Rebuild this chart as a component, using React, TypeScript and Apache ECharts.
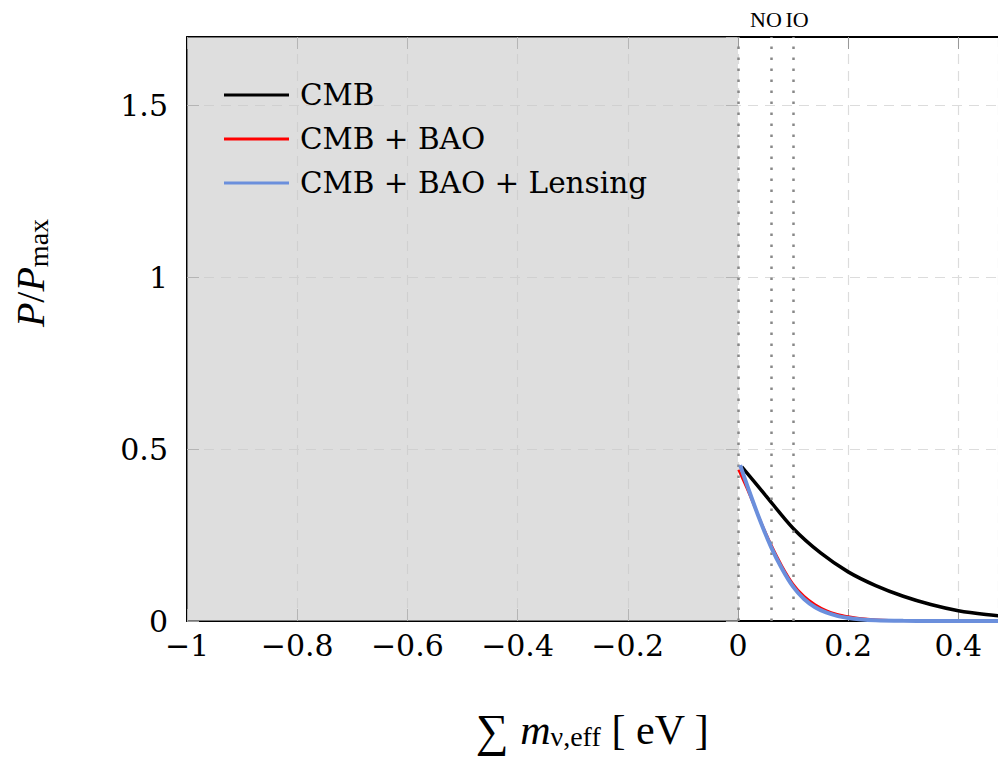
import React, { useEffect, useRef } from "react";
import * as echarts from "echarts";

const xCMB = [0.007, 0.05, 0.1, 0.15, 0.2, 0.25, 0.3, 0.35, 0.4, 0.45, 0.5];
const yCMB = [0.449, 0.366, 0.27, 0.198, 0.143, 0.103, 0.072, 0.048, 0.03, 0.019, 0.012];

const xBAO = [0.001, 0.02, 0.04, 0.06, 0.08, 0.1, 0.12, 0.14, 0.16, 0.18, 0.2, 0.22, 0.25, 0.3, 0.35, 0.4, 0.5];
const yBAO = [0.44, 0.372, 0.295, 0.223, 0.16, 0.108, 0.072, 0.048, 0.031, 0.02, 0.013, 0.008, 0.004, 0.001, 0.0003, 0, 0];

const xLens = [0.004, 0.02, 0.04, 0.06, 0.08, 0.1, 0.12, 0.14, 0.16, 0.18, 0.2, 0.22, 0.25, 0.3, 0.35, 0.4, 0.5];
const yLens = [0.454, 0.38, 0.293, 0.216, 0.152, 0.1, 0.064, 0.04, 0.025, 0.015, 0.009, 0.005, 0.002, 0.0005, 0.0001, 0, 0];

const seriesNames = ["CMB", "CMB + BAO", "CMB + BAO + Lensing"];
const seriesColors = ["#000000", "#ff0000", "#6b8fdc"];
const orderingLines = [0, 0.06, 0.1];
const orderingLabels = ["", "NO", "IO"];
const excludedRange = [-1, 0];

const SERIF = "'Liberation Serif', 'DejaVu Serif', serif";
const TICKFONT = "'DejaVu Serif', 'Liberation Serif', serif";

const zip = (xs: number[], ys: number[]) => xs.map((x, i) => [x, ys[i]]);

export default function App() {
  const ref = useRef<HTMLDivElement>(null);
  useEffect(() => {
    if (!ref.current) return;
    const chart = echarts.init(ref.current, undefined, { renderer: "svg" });
    const fmt = (v: number) => {
      const s = String(+v.toFixed(1));
      return s.replace("-", "\u2212");
    };
    const tickStyle = { show: true, inside: true, length: 12, lineStyle: { color: "#999", width: 1 } };
    const splitStyle = { show: true, lineStyle: { color: "#dcdcdc", type: [10, 7] as any, width: 1.2 } };
    const option: any = {
      animation: false,
      backgroundColor: "#fff",
      grid: { left: 187, right: 0, top: 37, bottom: 137, containLabel: false, outerBoundsMode: "none" },
      legend: {
        orient: "vertical",
        left: 224,
        top: 80,
        padding: 0,
        icon: "rect",
        itemWidth: 65,
        itemHeight: 3,
        itemGap: 14,
        data: seriesNames,
        textStyle: { fontFamily: TICKFONT, fontSize: 29.5, color: "#000", padding: [0, 0, 0, 6], lineHeight: 30 },
      },
      xAxis: [
        {
          type: "value",
          min: -1,
          max: 0.472,
          interval: 0.2,
          axisLine: { show: true, onZero: false, lineStyle: { color: "#000", width: 2 } },
          axisTick: tickStyle,
          splitLine: splitStyle,
          axisLabel: {
            formatter: fmt,
            fontFamily: TICKFONT,
            fontSize: 30,
            color: "#000",
            margin: 9,
            showMaxLabel: false,
          },
          name: "{b|\u2211 }{m|m}{s|\u03bd,eff}{n| [ eV ]}",
          nameLocation: "middle",
          nameGap: 89,
          nameTextStyle: {
            rich: {
              b: { fontFamily: SERIF, fontSize: 46, color: "#000", lineHeight: 40 },
              n: { fontFamily: SERIF, fontSize: 42, color: "#000", lineHeight: 40 },
              m: { fontFamily: SERIF, fontSize: 42, fontStyle: "italic", color: "#000", lineHeight: 40 },
              s: { fontFamily: SERIF, fontSize: 28, color: "#000", lineHeight: 16, verticalAlign: "bottom" },
            },
          },
        },
        {
          type: "value",
          position: "top",
          min: -1,
          max: 0.472,
          interval: 0.2,
          axisLine: { show: true, onZero: false, lineStyle: { color: "#000", width: 2 } },
          axisTick: tickStyle,
          splitLine: { show: false },
          axisLabel: { show: false },
        },
      ],
      yAxis: [
        {
          type: "value",
          min: 0,
          max: 1.7,
          interval: 0.5,
          axisLine: { show: true, onZero: false, lineStyle: { color: "#000", width: 2 } },
          axisTick: tickStyle,
          splitLine: splitStyle,
          axisLabel: {
            formatter: (v: number) => String(+v.toFixed(1)),
            fontFamily: TICKFONT,
            fontSize: 30,
            color: "#000",
            margin: 19,
            showMaxLabel: false,
          },
          name: "{i|P}{n|/}{i|P}{s|max}",
          nameLocation: "middle",
          nameRotate: 90,
          nameGap: 135,
          nameTextStyle: {
            padding: [0, 0, 0, 112],
            rich: {
              i: { fontFamily: SERIF, fontSize: 40, fontStyle: "italic", fontWeight: "normal", color: "#000", lineHeight: 44 },
              n: { fontFamily: SERIF, fontSize: 40, fontWeight: "normal", color: "#000", lineHeight: 44 },
              s: { fontFamily: SERIF, fontSize: 28, fontWeight: "normal", color: "#000", lineHeight: 18, verticalAlign: "bottom" },
            },
          },
        },
        {
          type: "value",
          position: "right",
          min: 0,
          max: 1.7,
          interval: 0.5,
          axisLine: { show: false },
          axisTick: tickStyle,
          splitLine: { show: false },
          axisLabel: { show: false },
        },
      ],
      series: [
        {
          name: "bg",
          type: "line",
          data: [],
          z: 1,
          markArea: {
            silent: true,
            label: { show: false },
            itemStyle: { color: "rgba(200,200,200,0.6)" },
            data: [[{ xAxis: excludedRange[0] }, { xAxis: excludedRange[1] }]],
          },
          markLine: {
            silent: true,
            symbol: "none",
            lineStyle: { color: "#888", width: 2.5, type: [2.5, 8.5] as any },
            data: orderingLines.map((x, i) => ({
              xAxis: x,
              label: {
                show: orderingLabels[i] !== "",
                formatter: orderingLabels[i],
                position: "end",
                distance: 7,
                offset: [i === 1 ? -5 : 4, 0],
                fontFamily: SERIF,
                fontSize: 22,
                color: "#000",
              },
            })),
          },
        },
        {
          name: seriesNames[0],
          type: "line",
          data: zip(xCMB, yCMB),
          smooth: 0.3,
          showSymbol: false,
          symbol: "none",
          lineStyle: { color: seriesColors[0], width: 3.5 },
          itemStyle: { color: seriesColors[0] },
          z: 3,
        },
        {
          name: seriesNames[1],
          type: "line",
          data: zip(xBAO, yBAO),
          smooth: 0.3,
          showSymbol: false,
          symbol: "none",
          lineStyle: { color: seriesColors[1], width: 2.5 },
          itemStyle: { color: seriesColors[1] },
          z: 4,
        },
        {
          name: seriesNames[2],
          type: "line",
          data: zip(xLens, yLens),
          smooth: 0.3,
          showSymbol: false,
          symbol: "none",
          lineStyle: { color: seriesColors[2], width: 4 },
          itemStyle: { color: seriesColors[2] },
          z: 5,
        },
      ],
    };
    chart.setOption(option);
    return () => chart.dispose();
  }, []);
  return (
    <div
      ref={ref}
      style={{ position: "fixed", left: 0, top: 0, width: 998, height: 758, background: "#fff" }}
    />
  );
}
